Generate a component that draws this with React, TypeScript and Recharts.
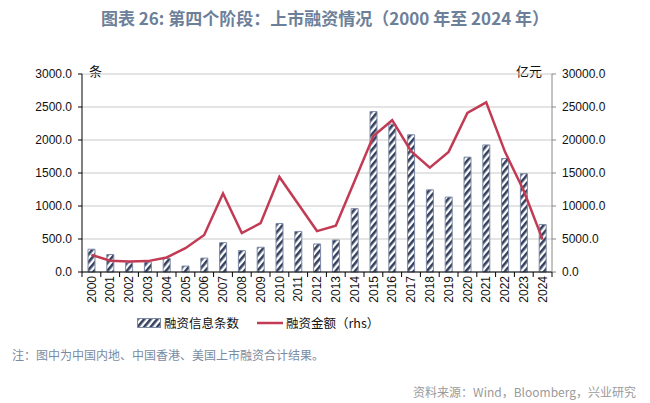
import React from 'react';
import { ComposedChart, Bar, Line, XAxis, YAxis, CartesianGrid } from 'recharts';

const years = [
  '2000', '2001', '2002', '2003', '2004', '2005', '2006', '2007', '2008', '2009',
  '2010', '2011', '2012', '2013', '2014', '2015', '2016', '2017', '2018', '2019',
  '2020', '2021', '2022', '2023', '2024',
];
// 融资信息条数（左轴，条）
const counts = [
  345, 265, 140, 150, 205, 90, 210, 445, 325, 375,
  735, 615, 425, 485, 960, 2430, 2240, 2080, 1245, 1135,
  1740, 1925, 1720, 1490, 720,
];
// 融资金额（右轴，亿元）
const amounts = [
  2600, 1700, 1600, 1650, 2200, 3600, 5600, 11900, 5900, 7400,
  14400, 10300, 6200, 7000, 13800, 20600, 23000, 18300, 15800, 18200,
  24100, 25700, 18200, 12300, 4900,
];
const leftTicks = [0, 500, 1000, 1500, 2000, 2500, 3000];
const rightTicks = [0, 5000, 10000, 15000, 20000, 25000, 30000];

const data = years.map((y, i) => ({ year: y, count: counts[i], amount: amounts[i] }));

const tickFont = { fontFamily: '"Liberation Sans", Arial, sans-serif', fontSize: 12, fill: '#111' };
const cjk = '"Noto Sans CJK SC", "Noto Sans", sans-serif';

const HatchDef = ({ id }: { id: string }) => (
  <pattern id={id} patternUnits="userSpaceOnUse" width="5" height="5" patternTransform="rotate(40)">
    <rect width="5" height="5" fill="#fff" />
    <line x1="1.3" y1="0" x2="1.3" y2="5" stroke="#34405e" strokeWidth="2.6" />
  </pattern>
);

const YearTick = (props: any) => {
  const { x, y, payload, index } = props;
  const off = payload && payload.offset ? payload.offset : 9.4;
  return (
    <g>
      <line x1={x - off} y1={y} x2={x - off} y2={y + 5} stroke="#000" />
      {index === years.length - 1 && <line x1={x + off} y1={y} x2={x + off} y2={y + 5} stroke="#000" />}
      <text
        transform={`translate(${x},${y + 4}) rotate(-90)`}
        textAnchor="end"
        dy="0.35em"
        {...tickFont}
      >
        {payload.value}
      </text>
    </g>
  );
};

export default function App() {
  return (
    <div style={{ position: 'absolute', left: 0, top: 0, width: 650, height: 403, background: '#fff' }}>
      <div
        style={{
          position: 'absolute', left: 0, top: 5, width: 650, textAlign: 'center',
          fontFamily: cjk, fontSize: 17, fontWeight: 600, color: '#6d809a',
        }}
      >
        图表 26: 第四个阶段：上市融资情况（2000 年至 2024 年）
      </div>
      <div style={{ position: 'absolute', left: 89, top: 61, fontFamily: cjk, fontSize: 13, color: '#111' }}>条</div>
      <div style={{ position: 'absolute', left: 516, top: 61, fontFamily: cjk, fontSize: 13, color: '#111' }}>亿元</div>

      <ComposedChart
        width={650}
        height={340}
        data={data}
        margin={{ top: 74, left: 22, right: 28, bottom: 28 }}
        style={{ position: 'absolute', left: 0, top: 0 }}
      >
        <defs>
          <HatchDef id="hatch" />
        </defs>
        <CartesianGrid vertical={false} stroke="#c9c9c9" yAxisId="left" />
        <XAxis
          dataKey="year"
          height={40}
          tickLine={false}
          tickSize={0}
          tickMargin={0}
          interval={0}
          axisLine={{ stroke: '#000' }}
          tick={<YearTick />}
        />
        <YAxis
          yAxisId="left"
          width={60}
          domain={[0, 3000]}
          ticks={leftTicks}
          tickFormatter={(v: number) => v.toFixed(1)}
          axisLine={{ stroke: '#000' }}
          tickLine={{ stroke: '#000' }}
          tickSize={4}
          tickMargin={6}
          tick={tickFont}
        />
        <YAxis
          yAxisId="right"
          orientation="right"
          width={70}
          domain={[0, 30000]}
          ticks={rightTicks}
          tickFormatter={(v: number) => v.toFixed(1)}
          axisLine={{ stroke: '#888' }}
          tickLine={{ stroke: '#888' }}
          tickSize={4}
          tickMargin={6}
          tick={tickFont}
        />
        <Bar
          yAxisId="left"
          dataKey="count"
          barSize={7}
          fill="url(#hatch)"
          stroke="#7d8aa6"
          strokeWidth={1}
          isAnimationActive={false}
        />
        <Line
          yAxisId="right"
          dataKey="amount"
          type="linear"
          stroke="#c23b54"
          strokeWidth={2.5}
          dot={false}
          isAnimationActive={false}
        />
      </ComposedChart>

      <div style={{ position: 'absolute', left: 137, top: 313, display: 'flex', alignItems: 'center', fontFamily: cjk, fontSize: 12.5, color: '#111' }}>
        <svg width="24" height="10" style={{ marginRight: 3 }}>
          <defs>
            <HatchDef id="hatchL" />
          </defs>
          <rect x="0.5" y="0.5" width="23" height="9" fill="url(#hatchL)" stroke="#7d8aa6" />
        </svg>
        <span>融资信息条数</span>
        <svg width="26" height="10" style={{ marginLeft: 18, marginRight: 3 }}>
          <line x1="0" y1="5" x2="26" y2="5" stroke="#c23b54" strokeWidth="2.5" />
        </svg>
        <span>融资金额（rhs）</span>
      </div>

      <div style={{ position: 'absolute', left: 12, top: 346, fontFamily: cjk, fontSize: 12, color: '#7b8ba2' }}>
        注：图中为中国内地、中国香港、美国上市融资合计结果。
      </div>
      <div style={{ position: 'absolute', right: 14, top: 383, fontFamily: cjk, fontSize: 12, color: '#9a9a9a' }}>
        资料来源：Wind，Bloomberg，兴业研究
      </div>
    </div>
  );
}
